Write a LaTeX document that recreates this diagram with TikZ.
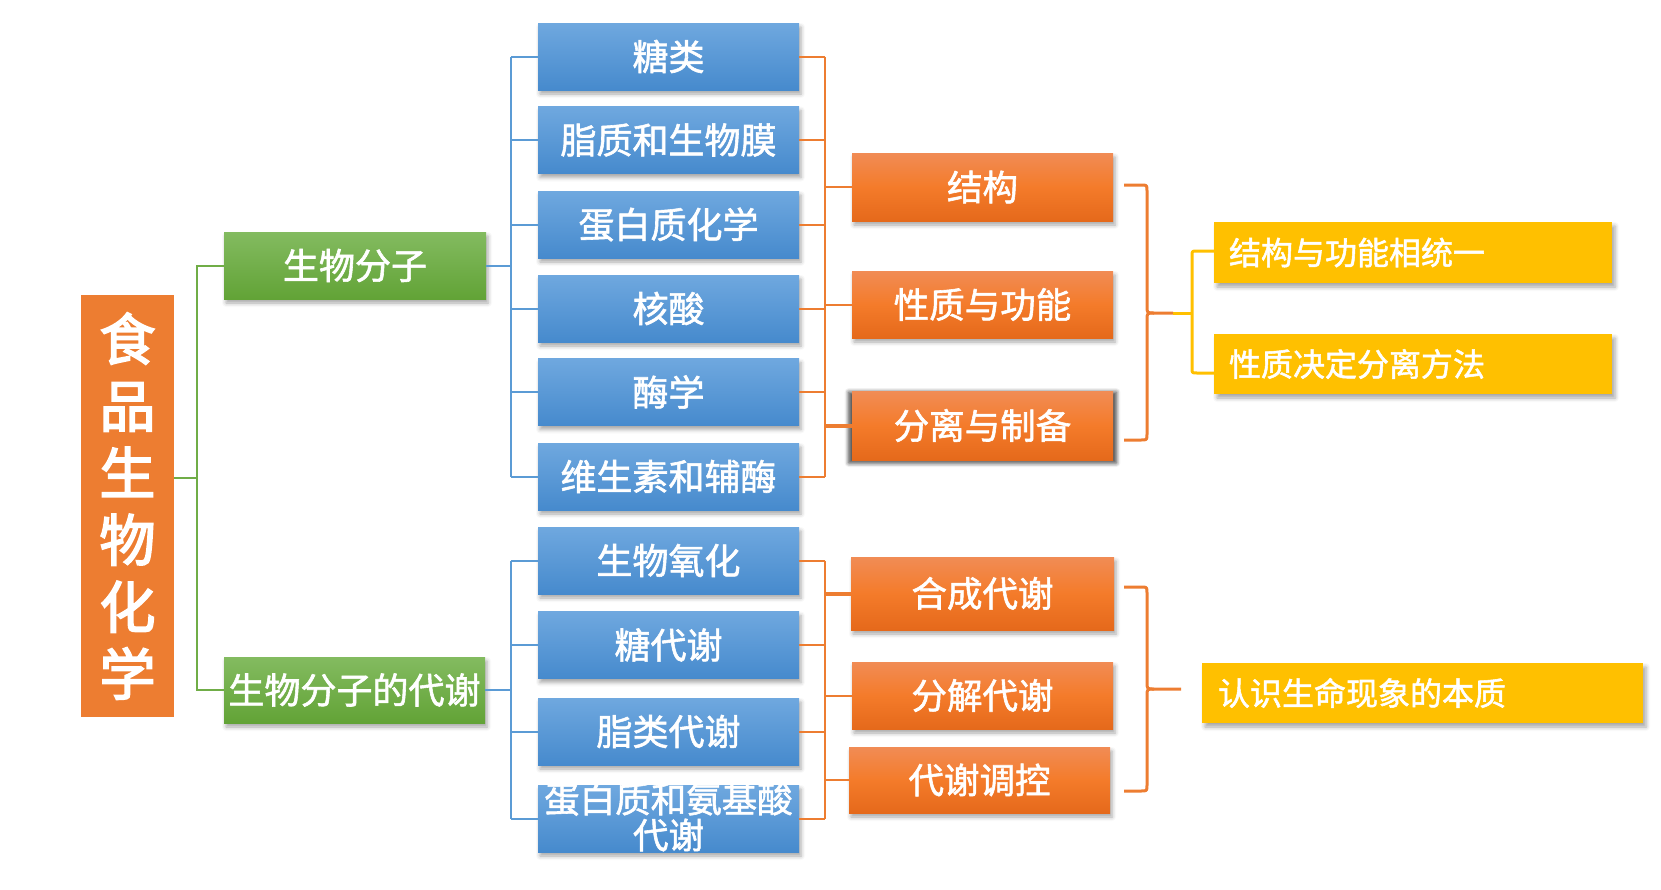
\documentclass[tikz,border=0pt]{standalone}
\usepackage{fontspec}
\setmainfont{Noto Sans CJK SC}
\newfontfamily\medf{Noto Sans CJK SC}[FakeBold=1.6]
\newfontfamily\heavyf{Noto Sans CJK SC}[FakeBold=3]
\usetikzlibrary{shadows,shadows.blur}
\definecolor{blueT}{HTML}{6FA8DF}
\definecolor{blueB}{HTML}{468ACD}
\definecolor{orT}{HTML}{F18C55}
\definecolor{orM}{HTML}{F47B2A}
\definecolor{orB}{HTML}{E5691B}
\definecolor{grT}{HTML}{83BB60}
\definecolor{grB}{HTML}{62A336}
\definecolor{mainor}{HTML}{ED7D31}
\definecolor{yel}{HTML}{FFC000}
\definecolor{bline}{HTML}{5B9BD5}
\definecolor{oline}{HTML}{ED7D31}
\definecolor{gline}{HTML}{70AD47}
\newcommand\fsz[1]{\fontsize{#1}{#1}\selectfont\medf}
\tikzset{
  boxbase/.style={rectangle, inner sep=0pt, minimum width=261pt, minimum height=67pt,
    text=white, font=\fsz{35.5}, blur shadow={shadow xshift=2pt, shadow yshift=-4pt, shadow blur radius=4pt, shadow opacity=35}},
  bluebox/.style={boxbase, top color=blueT, bottom color=blueB, font=\fsz{36}},
  orbox/.style={boxbase, top color=orT, bottom color=orB, middle color=orM},
  grbox/.style={boxbase, top color=grT, bottom color=grB, font=\fsz{36}},
  yelbox/.style={rectangle, fill=yel, inner ysep=0pt, minimum height=60pt, align=left,
    text=white, font=\fsz{32}, blur shadow={shadow xshift=3pt, shadow yshift=-4pt, shadow blur radius=4pt, shadow opacity=35}},
  txtonly/.style={inner sep=0pt, text=white, align=center},
  bl/.style={draw=bline, line width=2pt},
  ol/.style={draw=oline, line width=2pt},
  olthick/.style={draw=oline, line width=4pt},
  gl/.style={draw=gline, line width=2pt},
  brace/.style={draw=oline, line width=3pt, line join=round},
  ybrace/.style={draw=yel, line width=3pt, line join=round},
}
\begin{document}
\begin{tikzpicture}[x=1pt,y=-1pt]
\useasboundingbox (0,0) rectangle (1661,889);

% main
\node[rectangle, fill=mainor, minimum width=93pt, minimum height=422pt, inner sep=0pt,
  text=white, align=center, font=\fontsize{56}{67}\selectfont\heavyf] (main) at (127.5,506)
  {食\\品\\生\\物\\化\\学};

% green
\node[grbox, minimum width=262pt] (g1) at (355,265.5) {生物分子};
\node[grbox, minimum height=66pt] (g2) at (354.5,690) {生物分子的代谢};

% blue upper
\node[bluebox] (b1) at (668.5,56.5) {糖类};
\node[bluebox] (b2) at (668.5,140) {脂质和生物膜};
\node[bluebox] (b3) at (668.5,224.5) {蛋白质化学};
\node[bluebox] (b4) at (668.5,308.5) {核酸};
\node[bluebox] (b5) at (668.5,392) {酶学};
\node[bluebox] (b6) at (668.5,476.5) {维生素和辅酶};
% blue lower
\node[bluebox] (b7) at (668.5,560.5) {生物氧化};
\node[bluebox] (b8) at (668.5,645) {糖代谢};
\node[bluebox] (b9) at (668.5,731.5) {脂类代谢};
\node[bluebox] (b10) at (668.5,818.5) {};
\node[txtonly, font=\fontsize{35.5}{36}\selectfont\medf] (b10t) at (668.5,817) {蛋白质和氨基酸\\代谢};

% orange upper
\node[orbox, minimum height=68pt] (o1) at (982.5,187) {结构};
\node[orbox] (o2) at (982.5,304.5) {性质与功能};
\node[orbox, minimum height=69pt,
  blur shadow={shadow xshift=0pt, shadow yshift=-2pt, shadow scale=1.025, shadow blur radius=4pt, shadow opacity=45}] (o3) at (982.5,425.5) {分离与制备};
% orange lower
\node[orbox, minimum width=263pt, minimum height=73pt] (o4) at (982.5,593.5) {合成代谢};
\node[orbox] (o5) at (982.5,695.5) {分解代谢};
\node[orbox, minimum height=66pt] (o6) at (979.5,780) {代谢调控};

% yellow
\node[yelbox, inner xsep=15pt, text width=368pt, minimum height=61pt] (y1) at (1413,252.5) {结构与功能相统一};
\node[yelbox, inner xsep=15pt, text width=368pt] (y2) at (1413,364) {性质决定分离方法};
\node[yelbox, inner xsep=16pt, text width=409pt] (y3) at (1422.5,693) {认识生命现象的本质};

% trunk coordinates
\coordinate (gt) at (197,0);
\coordinate (bt) at (511,0);
\coordinate (ot) at (825,0);
\coordinate (mout) at ([yshift=28pt]main.east);

% green connectors
\draw[gl] (mout) -- (mout -| gt);
\draw[gl] (g1.west) -- (g1.west -| gt) -- (g2.west -| gt) -- (g2.west);

% blue connectors upper
\draw[bl] (g1.east) -- (g1.east -| bt);
\draw[bl] (b1.west -| bt) -- (b6.west -| bt);
\foreach \n in {b1,b2,b3,b4,b5,b6} \draw[bl] (\n.west -| bt) -- (\n.west);
% blue connectors lower
\draw[bl] (g2.east) -- (g2.east -| bt);
\draw[bl] (b7.west -| bt) -- (b10.west -| bt);
\foreach \n in {b7,b8,b9,b10} \draw[bl] (\n.west -| bt) -- (\n.west);

% orange connectors upper
\draw[ol] (b1.east -| ot) -- (b6.east -| ot);
\foreach \n in {b1,b2,b3,b4,b5,b6} \draw[ol] (\n.east) -- (\n.east -| ot);
\draw[ol] (o1.west -| ot) -- (o1.west);
\draw[ol] (o2.west -| ot) -- (o2.west);
\draw[olthick] (o3.west -| ot) -- (o3.west);
% orange connectors lower
\draw[ol] (b7.east -| ot) -- (b10.east -| ot);
\foreach \n in {b7,b8,b9,b10} \draw[ol] (\n.east) -- (\n.east -| ot);
\draw[olthick] (o4.west -| ot) -- (o4.west);
\draw[ol] (o5.west -| ot) -- (o5.west);
\draw[ol] (o6.west -| ot) -- (o6.west);

% upper brace
\coordinate (ub1) at (1124,185);
\coordinate (ub2) at (1124,440);
\coordinate (utip) at (1173,313);
\draw[brace] (ub1) -- (1141,185) .. controls (1147,185) .. (1147,191) -- (1147,306) .. controls (1147,313) .. (1154,313) -- (utip);
\draw[brace] (ub2) -- (1141,440) .. controls (1147,440) .. (1147,434) -- (1147,320) .. controls (1147,313) .. (1154,313);
% yellow bracket
\draw[ybrace] (utip) -- (1192,313);
\draw[ybrace] (y1.west |- 0,251) -- (1197,251) .. controls (1192,251) .. (1192,256) -- (1192,368) .. controls (1192,373) .. (1197,373) -- (y2.west |- 0,373);

% lower brace
\coordinate (lb1) at (1124,587);
\coordinate (lb2) at (1124,791);
\coordinate (ltip) at (1181,689);
\draw[brace] (lb1) -- (1141,587) .. controls (1147,587) .. (1147,593) -- (1147,682) .. controls (1147,689) .. (1154,689) -- (ltip);
\draw[brace] (lb2) -- (1141,791) .. controls (1147,791) .. (1147,785) -- (1147,696) .. controls (1147,689) .. (1154,689);
\end{tikzpicture}
\end{document}
